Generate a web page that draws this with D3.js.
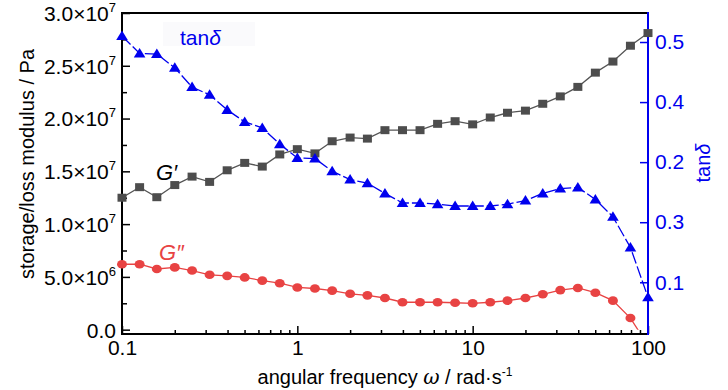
<!DOCTYPE html>
<html>
<head>
<meta charset="utf-8">
<script src="https://cdn.jsdelivr.net/npm/d3@7"></script>
<style>
  body { margin: 0; background: #fff; }
  svg text { font-family: 'Liberation Sans', Arial, sans-serif; }
</style>
</head>
<body>
<div id="main-content"></div>
<script>
'use strict'

// angular frequency, rad/s
const freq = [0.1, 0.126, 0.158, 0.2, 0.251, 0.316, 0.398, 0.501, 0.631, 0.794,
  1, 1.26, 1.58, 2, 2.51, 3.16, 3.98, 5.01, 6.31, 7.94,
  10, 12.6, 15.8, 20, 25.1, 31.6, 39.8, 50.1, 63.1, 79.4, 100]

// storage modulus G', Pa
const gPrime = [1.25e7, 1.35e7, 1.255e7, 1.37e7, 1.45e7, 1.40e7, 1.51e7, 1.58e7, 1.545e7, 1.66e7,
  1.71e7, 1.67e7, 1.785e7, 1.82e7, 1.81e7, 1.89e7, 1.89e7, 1.89e7, 1.95e7, 1.975e7,
  1.945e7, 2.01e7, 2.055e7, 2.075e7, 2.14e7, 2.21e7, 2.30e7, 2.435e7, 2.54e7, 2.69e7, 2.81e7]

// loss modulus G'', Pa
const gDouble = [6.2e6, 6.2e6, 5.75e6, 5.9e6, 5.6e6, 5.2e6, 5.1e6, 4.95e6, 4.65e6, 4.4e6,
  4.0e6, 3.9e6, 3.7e6, 3.4e6, 3.25e6, 3.0e6, 2.6e6, 2.6e6, 2.6e6, 2.55e6,
  2.5e6, 2.6e6, 2.75e6, 3.0e6, 3.35e6, 3.75e6, 3.95e6, 3.5e6, 2.75e6, 1.1e6, -1.5e6]

// loss factor tan delta
const tanDelta = [0.510, 0.481, 0.480, 0.457, 0.425, 0.412, 0.387, 0.367, 0.357, 0.330,
  0.307, 0.306, 0.285, 0.271, 0.265, 0.248, 0.232, 0.232, 0.230, 0.227,
  0.227, 0.227, 0.230, 0.236, 0.248, 0.256, 0.258, 0.238, 0.209, 0.158, 0.075]

const xTicks = [0.1, 1, 10, 100]
const xTickLabels = ['0.1', '1', '10', '100']
const leftTicks = [0, 5e6, 1e7, 1.5e7, 2e7, 2.5e7, 3e7]
const leftTickLabels = [['0.0', ''], ['5.0×10', '6'], ['1.0×10', '7'], ['1.5×10', '7'],
  ['2.0×10', '7'], ['2.5×10', '7'], ['3.0×10', '7']]
const rightTicks = [0.5, 0.4, 0.3, 0.2, 0.1]
const rightTickLabels = ['0.5', '0.4', '0.2', '0.3', '0.1']

const width = 728,
    height = 390
const mLeft = 122, mRight = 648, mTop = 13, mBottom = 334

const svg = d3.select('#main-content').append('svg')
  .attr('width', width)
  .attr('height', height)

const x = d3.scaleLog().domain([0.1, 100]).range([mLeft, mRight])
const yL = d3.scaleLinear().domain([-4.1e5, 3e7]).range([mBottom, mTop])
const yR = d3.scaleLinear().domain([0.0139, 0.5483]).range([mBottom, mTop])

const blue = '#0000ee', red = '#e84343', grey = '#4d4d4d'

// clip lines at zero modulus
svg.append('defs').append('clipPath').attr('id', 'clip')
  .append('rect')
    .attr('x', mLeft).attr('y', mTop)
    .attr('width', mRight - mLeft).attr('height', yL(0) - mTop)

// faint box behind the tan delta label
svg.append('rect')
  .attr('x', 163).attr('y', 22).attr('width', 92).attr('height', 24)
  .attr('fill', '#fafafc')

// x axis
const minorX = []
;[0.1, 1, 10].forEach((d) => { for (let k = 2; k <= 9; k++) minorX.push(d * k) })

svg.append('g')
  .attr('transform', `translate(0,${mBottom})`)
  .call(d3.axisBottom(x).tickValues(minorX).tickSize(-4).tickFormat(''))
svg.append('g')
  .attr('class', 'xaxis')
  .attr('transform', `translate(0,${mBottom})`)
  .call(d3.axisBottom(x).tickValues(xTicks).tickSize(-8).tickPadding(6)
    .tickFormat((d, i) => xTickLabels[i]))

// left axis
const minorL = [2.5e6, 7.5e6, 1.25e7, 1.75e7, 2.25e7, 2.75e7]
svg.append('g')
  .attr('transform', `translate(${mLeft},0)`)
  .call(d3.axisLeft(yL).tickValues(minorL).tickSize(-5).tickFormat(''))
const leftAxis = svg.append('g')
  .attr('transform', `translate(${mLeft},0)`)
  .call(d3.axisLeft(yL).tickValues(leftTicks).tickSize(-8).tickPadding(6).tickFormat(''))
leftAxis.selectAll('.tick text').each(function(d, i) {
  const t = d3.select(this)
  t.append('tspan').text(leftTickLabels[i][0])
  if (leftTickLabels[i][1]) {
    t.append('tspan').attr('dy', '-0.7em').attr('font-size', '13px').text(leftTickLabels[i][1])
  }
})
leftAxis.selectAll('.tick text').attr('dy', '0.35em')

// right axis
const rightAxis = svg.append('g')
  .attr('transform', `translate(${mRight},0)`)
  .call(d3.axisRight(yR).tickValues(rightTicks).tickSize(-8).tickPadding(7)
    .tickFormat((d, i) => rightTickLabels[i]))
rightAxis.selectAll('.tick line').attr('stroke', blue).attr('stroke-width', 1.5)
rightAxis.selectAll('.tick text').attr('fill', blue)

svg.selectAll('.domain').remove()
svg.selectAll('.tick text').attr('font-size', '21px').attr('font-family', "'Liberation Sans', Arial, sans-serif")
svg.selectAll('.tick line').filter(function() { return d3.select(this).attr('stroke') !== blue })
  .attr('stroke', '#000').attr('stroke-width', 1.5)

// frame
svg.append('line').attr('x1', mLeft).attr('x2', mRight).attr('y1', mTop).attr('y2', mTop)
  .attr('stroke', '#000').attr('stroke-width', 2)
svg.append('line').attr('x1', mLeft).attr('x2', mRight).attr('y1', mBottom).attr('y2', mBottom)
  .attr('stroke', '#000').attr('stroke-width', 2)
svg.append('line').attr('x1', mLeft).attr('x2', mLeft).attr('y1', mTop - 1).attr('y2', mBottom + 1)
  .attr('stroke', '#000').attr('stroke-width', 2)
svg.append('line').attr('x1', mRight).attr('x2', mRight).attr('y1', mTop - 1).attr('y2', mBottom + 1)
  .attr('stroke', blue).attr('stroke-width', 2)

// series
const series = [
  { values: gPrime, y: yL, color: grey, line: '#555', dash: null, shape: 'square' },
  { values: gDouble, y: yL, color: red, line: red, dash: null, shape: 'circle' },
  { values: tanDelta, y: yR, color: blue, line: blue, dash: '12,3', shape: 'triangle' }
]

series.forEach((s) => {
  const pts = freq.map((f, i) => ({ f: f, v: s.values[i] }))
  const line = d3.line().x((d) => x(d.f)).y((d) => s.y(d.v))

  svg.append('path')
    .datum(pts)
    .attr('clip-path', 'url(#clip)')
    .attr('d', line)
    .attr('fill', 'none')
    .attr('stroke', s.line)
    .attr('stroke-width', 1.3)
    .attr('stroke-dasharray', s.dash)

  const g = svg.append('g').selectAll('path')
    .data(pts.filter((d) => d.v >= 0))
    .enter().append('path')
      .attr('transform', (d) => `translate(${x(d.f)},${s.y(d.v)})`)
      .attr('fill', s.color)
  if (s.shape === 'square') g.attr('d', 'M-4.5,-4h9v8h-9z')
  if (s.shape === 'circle') g.attr('d', 'M-5,0a5,4.3 0 1,0 10,0a5,4.3 0 1,0 -10,0z')
  if (s.shape === 'triangle') g.attr('d', 'M0,-5.5L5.8,4L-5.8,4z')
})

// labels
const tanLabel = svg.append('text').attr('x', 180).attr('y', 45)
  .attr('font-size', '21px').attr('fill', blue)
tanLabel.append('tspan').text('tan')
tanLabel.append('tspan').attr('font-style', 'italic').text('δ')

svg.append('text').attr('x', 156).attr('y', 180)
  .attr('font-size', '22px').attr('font-style', 'italic').attr('fill', '#000').text('G′')
svg.append('text').attr('x', 159).attr('y', 260)
  .attr('font-size', '22px').attr('font-style', 'italic').attr('fill', red).text('G″')

// axis titles
svg.append('text')
  .attr('transform', 'translate(34,164) rotate(-90)')
  .attr('text-anchor', 'middle')
  .attr('font-size', '20px')
  .text('storage/loss modulus / Pa')

const rTitle = svg.append('text')
  .attr('transform', 'translate(710,163) rotate(-90)')
  .attr('text-anchor', 'middle')
  .attr('font-size', '20px')
  .attr('fill', blue)
rTitle.append('tspan').text('tan')
rTitle.append('tspan').attr('font-style', 'italic').text('δ')

const xTitle = svg.append('text')
  .attr('x', (mLeft + mRight) / 2).attr('y', 384)
  .attr('text-anchor', 'middle')
  .attr('font-size', '20px')
xTitle.append('tspan').text('angular frequency ')
xTitle.append('tspan').attr('font-style', 'italic').attr('font-family', "'DejaVu Serif', serif").text('ω')
xTitle.append('tspan').text(' / rad·s')
xTitle.append('tspan').attr('dy', '-0.7em').attr('font-size', '12px').text('-1')
</script>
</body>
</html>
